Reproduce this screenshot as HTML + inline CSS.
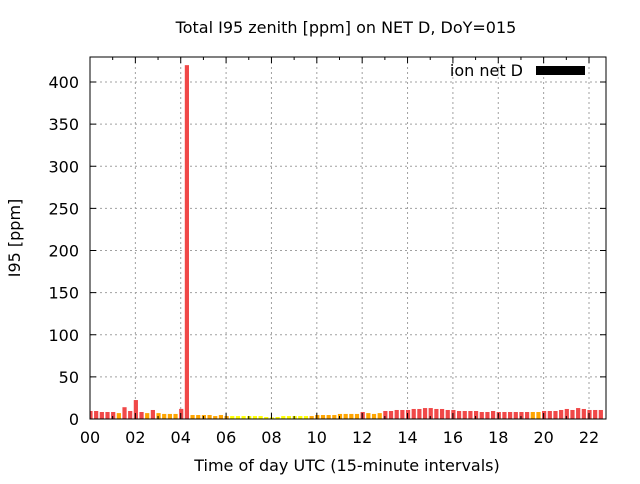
<!DOCTYPE html>
<html><head><meta charset="utf-8"><style>
body{margin:0;background:#fff;font-family:"DejaVu Sans",sans-serif}
svg text{font-family:"DejaVu Sans","Liberation Sans",sans-serif;fill:#000}
</style></head><body>
<svg id="chart" width="640" height="480" viewBox="0 0 640 480">
<rect width="640" height="480" fill="#fff"/>
<defs><clipPath id="pc"><rect x="90" y="57" width="516" height="362"/></clipPath></defs>
<g id="grid"></g><g id="bars" clip-path="url(#pc)"></g><g id="axes"></g>
<text x="346" y="33" text-anchor="middle" font-size="16">Total I95 zenith [ppm] on NET D, DoY=015</text>
<text x="347" y="471" text-anchor="middle" font-size="16">Time of day UTC (15-minute intervals)</text>
<text transform="translate(20,238) rotate(-90)" text-anchor="middle" font-size="16">I95 [ppm]</text>
<g>
<text x="523" y="76" text-anchor="end" font-size="16">ion net D</text>
<rect x="536" y="66" width="49" height="9" fill="#000"/>
</g>
</svg>
<script>
const values=[9.5,9.5,8.3,8.3,8.3,7,14,9.5,22.5,8.3,7,10.7,7,6,6,6,12,420,4.7,4.7,4.7,4.7,3.5,4.7,3.5,
3.5,3.5,3.5,3.5,3.5,3.5,2.4,1.9,2.4,3.5,3.5,3.5,3.5,3.5,3.5,4.7,4.7,4.7,4.7,6,6,6,6,8.3,7,6,7,
9.5,9.5,10.7,10.7,10.7,11.9,11.9,13,13,11.9,11.9,10.7,10.7,9.5,9.5,9.5,9.5,8.3,8.3,9.5,8.3,8.3,8.3,8.3,8.3,8.3,8.3,8.3,
9.5,9.5,9.5,10.7,11.9,10.7,13,11.9,10.7,10.7,10.7];
const levels=["r","r","r","r","r","o","r","r","r","r","o","r","o","o","o","o","r","r","o","o","o","o","o","o","o",
"y","y","y","y","y","y","y","y","y","y","y","y","y","y","o","o","o","o","o","o","o","o","o","r","o","o","o",
"r","r","r","r","r","r","r","r","r","r","r","r","r","r","r","r","r","r","r","r","r","r","r","r","r","r","o","o",
"r","r","r","r","r","r","r","r","r","r","r"];
const yTicks=[0,50,100,150,200,250,300,350,400];
const xTickLabels=["00","02","04","06","08","10","12","14","16","18","20","22"];
const xTickHours=[0,2,4,6,8,10,12,14,16,18,20,22];
const colors={r:"#f04848",o:"#ffa500",y:"#ffff00"};
const L=90,R=606,T=57,B=419;
const yS=v=>B-v*(337/400);
const xS=h=>L+h*(499/22);
const NS="http://www.w3.org/2000/svg";
function mk(t,a,p){const e=document.createElementNS(NS,t);for(const k in a)e.setAttribute(k,a[k]);p.appendChild(e);return e;}
const grid=document.getElementById('grid'),bars=document.getElementById('bars'),axes=document.getElementById('axes');
yTicks.forEach(v=>{const y=yS(v);
 if(v>0){const g=mk('line',{x1:L,x2:R,y1:y,y2:y,stroke:'#a0a0a0','stroke-dasharray':'2,3'},grid);
 
 }
 mk('line',{x1:L,x2:L+6,y1:y,y2:y,stroke:'#000'},axes);mk('line',{x1:R,x2:R-6,y1:y,y2:y,stroke:'#000'},axes);
 const t=mk('text',{x:L-11,y:y+6,'text-anchor':'end','font-size':16},axes);t.textContent=v;
 
 });
xTickHours.forEach((h,i)=>{const x=xS(h);
 if(h>0){const g=mk('line',{x1:x,x2:x,y1:T,y2:B,stroke:'#a0a0a0','stroke-dasharray':'2,3'},grid);
 
 }
 mk('line',{x1:x,x2:x,y1:B,y2:B-6,stroke:'#000'},axes);mk('line',{x1:x,x2:x,y1:T,y2:T+6,stroke:'#000'},axes);
 const t=mk('text',{x:x,y:B+24,'text-anchor':'middle','font-size':16},axes);t.textContent=xTickLabels[i];
 
 });
for(let h=1;h<23;h+=2){const x=xS(h);mk('line',{x1:x,x2:x,y1:B,y2:B-3,stroke:'#000'},axes);mk('line',{x1:x,x2:x,y1:T,y2:T+3,stroke:'#000'},axes);}
values.forEach((v,i)=>{const xc=xS(i*0.25)+0.5;const y=Math.max(yS(v),T);
 const b=mk('rect',{x:xc-2.1,y:y,width:4.2,height:B-y,fill:colors[levels[i]]},bars);
 
 });
const f=mk('rect',{x:L,y:T,width:R-L,height:B-T,fill:'none',stroke:'#000'},axes);


</script>
</body></html>
